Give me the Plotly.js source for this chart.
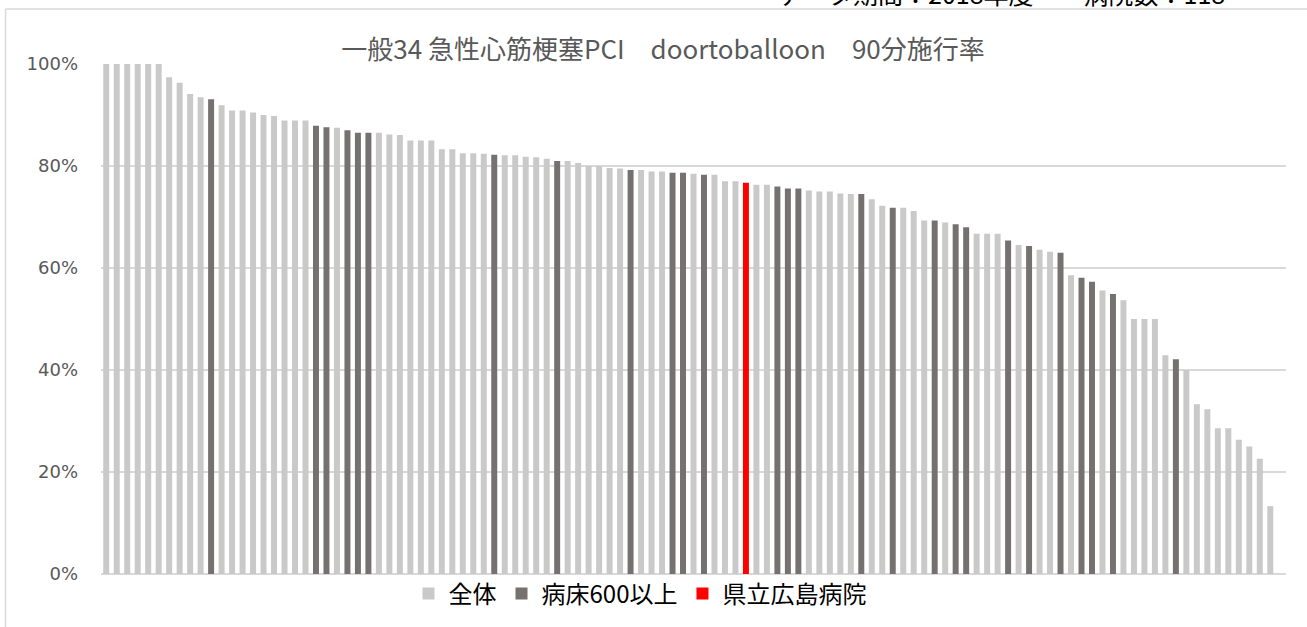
<!DOCTYPE html>
<html>
<head>
<meta charset="utf-8">
<script src="https://cdn.plot.ly/plotly-3.0.1.min.js"></script>
<style>
html,body{margin:0;padding:0;background:#fff;}
#chart{width:1307px;height:627px;}
</style>
</head>
<body>
<div id="chart"></div>
<script>
// 施行率 (sorted descending), one value per hospital
var rates = [
  1.000, 1.000, 1.000, 1.000, 1.000, 1.000, 0.974, 0.963, 0.941, 0.935,
  0.931, 0.919, 0.909, 0.909, 0.905, 0.900, 0.898, 0.889, 0.889, 0.889,
  0.879, 0.876, 0.875, 0.870, 0.865, 0.865, 0.865, 0.862, 0.861, 0.850,
  0.850, 0.850, 0.833, 0.833, 0.825, 0.825, 0.824, 0.822, 0.821, 0.821,
  0.818, 0.817, 0.814, 0.810, 0.810, 0.806, 0.800, 0.800, 0.796, 0.795,
  0.792, 0.792, 0.789, 0.789, 0.787, 0.787, 0.785, 0.783, 0.783, 0.770,
  0.770, 0.767, 0.763, 0.763, 0.760, 0.756, 0.756, 0.752, 0.750, 0.750,
  0.746, 0.745, 0.745, 0.735, 0.722, 0.718, 0.718, 0.712, 0.693, 0.693,
  0.689, 0.686, 0.680, 0.667, 0.667, 0.667, 0.654, 0.645, 0.643, 0.636,
  0.632, 0.630, 0.586, 0.581, 0.573, 0.556, 0.549, 0.537, 0.500, 0.500,
  0.500, 0.429, 0.421, 0.400, 0.333, 0.323, 0.286, 0.286, 0.263, 0.250,
  0.226, 0.133
];
// group of each hospital: 0 = 全体, 1 = 病床600以上, 2 = 県立広島病院
var groups = [
  0,0,0,0,0,0,0,0,0,0,
  1,0,0,0,0,0,0,0,0,0,
  1,1,0,1,1,1,0,0,0,0,
  0,0,0,0,0,0,0,1,0,0,
  0,0,0,1,0,0,0,0,0,0,
  1,0,0,0,1,1,0,1,0,0,
  0,2,0,0,1,1,1,0,0,0,
  0,0,1,0,0,1,0,0,0,1,
  0,1,1,0,0,0,1,0,1,0,
  0,1,0,1,1,0,1,0,0,0,
  0,0,1,0,0,0,0,0,0,0,
  0,0
];
var seriesNames = ['全体', '病床600以上', '県立広島病院'];
var seriesColors = ['#C9C9C9', '#767171', '#FF0000'];
var yTicks = [0, 0.2, 0.4, 0.6, 0.8, 1.0];
var yTickLabels = ['0%', '20%', '40%', '60%', '80%', '100%'];
var titleText = '一般34 急性心筋梗塞PCI　doortoballoon　90分施行率';
var headerText = 'データ期間：2018年度　　病院数：118';

var xs = rates.map(function(_, i){ return i + 1; });
var traces = seriesNames.map(function(name, g){
  return {
    type: 'bar',
    name: name,
    x: xs,
    y: rates.map(function(v, i){ return groups[i] === g ? v : null; }),
    marker: {color: seriesColors[g], line: {width: 0}},
    hoverinfo: 'skip'
  };
});

var L = 101, R = 21, T = 64, B = 52;
var W = 1307, H = 627;
var pw = W - L - R, ph = H - T - B;
function px2x(px){ return (px - L) / pw; }
function py2y(py){ return 1 - (py - T) / ph; }

var layout = {
  width: W, height: H,
  margin: {l: L, r: R, t: T, b: B, pad: 0},
  paper_bgcolor: '#ffffff',
  plot_bgcolor: '#ffffff',
  barmode: 'overlay',
  bargap: 0.43,
  showlegend: true,
  legend: {
    orientation: 'h',
    x: px2x(640), xanchor: 'center',
    y: py2y(594), yanchor: 'middle',
    bgcolor: 'rgba(0,0,0,0)',
    font: {family: 'Noto Sans CJK JP', size: 24, color: '#000000'},
    traceorder: 'normal',
    itemwidth: 30,
    itemclick: false, itemdoubleclick: false
  },
  title: {
    text: titleText,
    font: {family: 'Noto Sans CJK JP', size: 26, color: '#595959'},
    x: px2x(663), xanchor: 'center', xref: 'paper',
    y: 1 - 50 / H, yanchor: 'middle', yref: 'container'
  },
  xaxis: {
    range: [0.5, 113.5],
    showticklabels: false,
    showgrid: false,
    zeroline: false,
    showline: false,
    ticks: '',
    fixedrange: true
  },
  yaxis: {
    range: [0, 1],
    tickvals: yTicks,
    ticktext: yTickLabels,
    tickfont: {family: 'DejaVu Sans', size: 18, color: '#595959'},
    ticks: '',
    ticklabelstandoff: 22,
    showgrid: true,
    gridcolor: '#D9D9D9',
    gridwidth: 1.5,
    zeroline: true,
    zerolinecolor: '#D9D9D9',
    zerolinewidth: 1.5,
    showline: false,
    fixedrange: true
  },
  annotations: [{
    text: headerText,
    xref: 'paper', yref: 'paper',
    x: px2x(1001), xanchor: 'center',
    y: py2y(-7), yanchor: 'middle',
    showarrow: false,
    font: {family: 'Noto Sans CJK JP', size: 25, color: '#000000'}
  }],
  shapes: [
    {type: 'line', xref: 'paper', yref: 'paper',
     x0: px2x(5.5), x1: px2x(1310), y0: py2y(9), y1: py2y(9),
     line: {color: '#D9D9D9', width: 1.5}},
    {type: 'line', xref: 'paper', yref: 'paper',
     x0: px2x(5.5), x1: px2x(5.5), y0: py2y(9), y1: py2y(630),
     line: {color: '#D9D9D9', width: 1.5}}
  ]
};

Plotly.newPlot('chart', traces, layout, {displayModeBar: false, staticPlot: true});
</script>
</body>
</html>
